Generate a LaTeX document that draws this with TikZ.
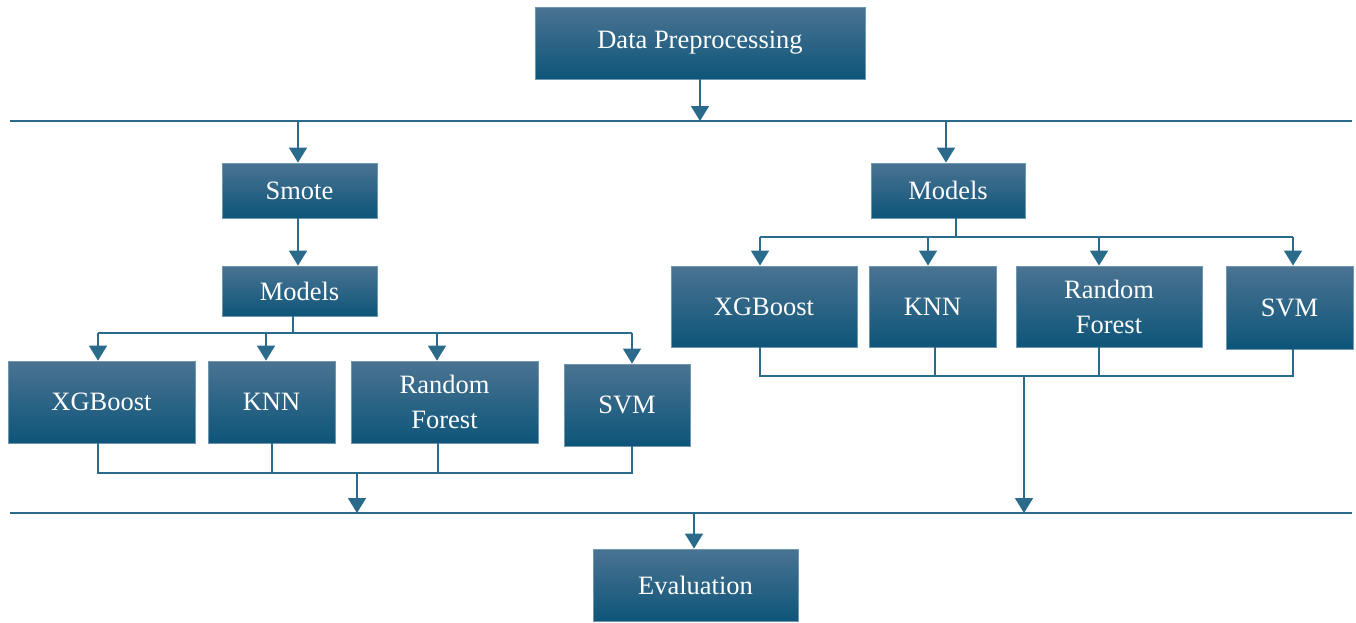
\documentclass[tikz,border=0pt]{standalone}
\usepackage{fontspec}
\setmainfont{Liberation Serif}
\usetikzlibrary{arrows.meta}
\definecolor{boxtop}{HTML}{4B7392}
\definecolor{boxmid}{HTML}{1A6689}
\definecolor{boxbot}{HTML}{0D5579}
\definecolor{boxedge}{HTML}{6F97B0}
\definecolor{wire}{HTML}{2A6A8B}
\tikzset{
  stage/.style={rectangle, draw=boxedge, line width=0.8pt, inner sep=0pt,
    top color=boxtop, middle color=boxmid, bottom color=boxbot,
    text=white, align=center, font=\fontsize{26.5}{35}\selectfont\rmfamily},
  wireline/.style={draw=wire, line width=1.6pt},
  flow/.style={wireline, -{Triangle[width=18pt,length=15pt]}}
}
\begin{document}
\begin{tikzpicture}[x=1pt,y=-1pt]
\useasboundingbox (0,0) rectangle (1356,622);

% stages
\node[stage, minimum width=330, minimum height=72] (dp) at (700,43) {Data Preprocessing};
\node[stage, minimum width=155, minimum height=55] (smote) at (299.5,190.5) {Smote};
\node[stage, minimum width=155, minimum height=50] (modelsL) at (299.5,291) {Models};
\node[stage, minimum width=187, minimum height=82] (xgL) at (101.5,402) {XGBoost};
\node[stage, minimum width=127, minimum height=82] (knnL) at (271.5,402) {KNN};
\node[stage, minimum width=187, minimum height=82] (rfL) at (444.5,402) {Random\\Forest};
\node[stage, minimum width=126, minimum height=82] (svmL) at (627,405) {SVM};
\node[stage, minimum width=154, minimum height=55] (modelsR) at (948,190.5) {Models};
\node[stage, minimum width=186, minimum height=81] (xgR) at (764,306.5) {XGBoost};
\node[stage, minimum width=127, minimum height=81] (knnR) at (932.5,306.5) {KNN};
\node[stage, minimum width=186, minimum height=81] (rfR) at (1109,306.5) {Random\\Forest};
\node[stage, minimum width=127, minimum height=83] (svmR) at (1289.5,307.5) {SVM};
\node[stage, minimum width=205, minimum height=72] (eval) at (695.5,585) {Evaluation};

% horizontal buses
\coordinate (topL) at (10,121);
\coordinate (topR) at (1352,121);
\coordinate (botL) at (10,513);
\coordinate (botR) at (1352,513);
\draw[wireline] (topL) -- (topR);
\draw[wireline] (botL) -- (botR);

% top bus feeds
\draw[flow] (dp.south) -- (dp.south |- topL);
\coordinate (fL) at (298,121);
\coordinate (fR) at (946,121);
\draw[flow] (fL) -- (fL |- smote.north);
\draw[flow] (fR) -- (fR |- modelsR.north);
\coordinate (sL) at (298,218);
\draw[flow] (sL |- smote.south) -- (sL |- modelsL.north);

% left branch: distribution
\coordinate (jL) at (293,333);
\draw[wireline] (jL |- modelsL.south) -- (jL);
\coordinate (aL1) at (98,333);
\coordinate (aL2) at (266,333);
\coordinate (aL3) at (437,333);
\coordinate (aL4) at (632,333);
\draw[wireline] (aL1) -- (aL4);
\draw[flow] (aL1) -- (aL1 |- xgL.north);
\draw[flow] (aL2) -- (aL2 |- knnL.north);
\draw[flow] (aL3) -- (aL3 |- rfL.north);
\draw[flow] (aL4) -- (aL4 |- svmL.north);

% left branch: collection
\coordinate (cL1) at (98,473);
\coordinate (cL2) at (272,473);
\coordinate (cL3) at (438,473);
\coordinate (cL4) at (632,473);
\draw[wireline] (cL1 |- xgL.south) -- (cL1) -- (cL4) -- (cL4 |- svmL.south);
\draw[wireline] (cL2 |- knnL.south) -- (cL2);
\draw[wireline] (cL3 |- rfL.south) -- (cL3);
\coordinate (oL) at (357,473);
\draw[flow] (oL) -- (oL |- botL);

% right branch: distribution
\coordinate (jR) at (956,237);
\draw[wireline] (jR |- modelsR.south) -- (jR);
\coordinate (aR1) at (760,237);
\coordinate (aR2) at (928,237);
\coordinate (aR3) at (1099,237);
\coordinate (aR4) at (1293,237);
\draw[wireline] (aR1) -- (aR4);
\draw[flow] (aR1) -- (aR1 |- xgR.north);
\draw[flow] (aR2) -- (aR2 |- knnR.north);
\draw[flow] (aR3) -- (aR3 |- rfR.north);
\draw[flow] (aR4) -- (aR4 |- svmR.north);

% right branch: collection
\coordinate (cR1) at (760,376);
\coordinate (cR2) at (935,376);
\coordinate (cR3) at (1099,376);
\coordinate (cR4) at (1293,376);
\draw[wireline] (cR1 |- xgR.south) -- (cR1) -- (cR4) -- (cR4 |- svmR.south);
\draw[wireline] (cR2 |- knnR.south) -- (cR2);
\draw[wireline] (cR3 |- rfR.south) -- (cR3);
\coordinate (oR) at (1024,376);
\draw[flow] (oR) -- (oR |- botR);

% evaluation
\coordinate (eIn) at (694,513);
\draw[flow] (eIn) -- (eIn |- eval.north);
\end{tikzpicture}
\end{document}
